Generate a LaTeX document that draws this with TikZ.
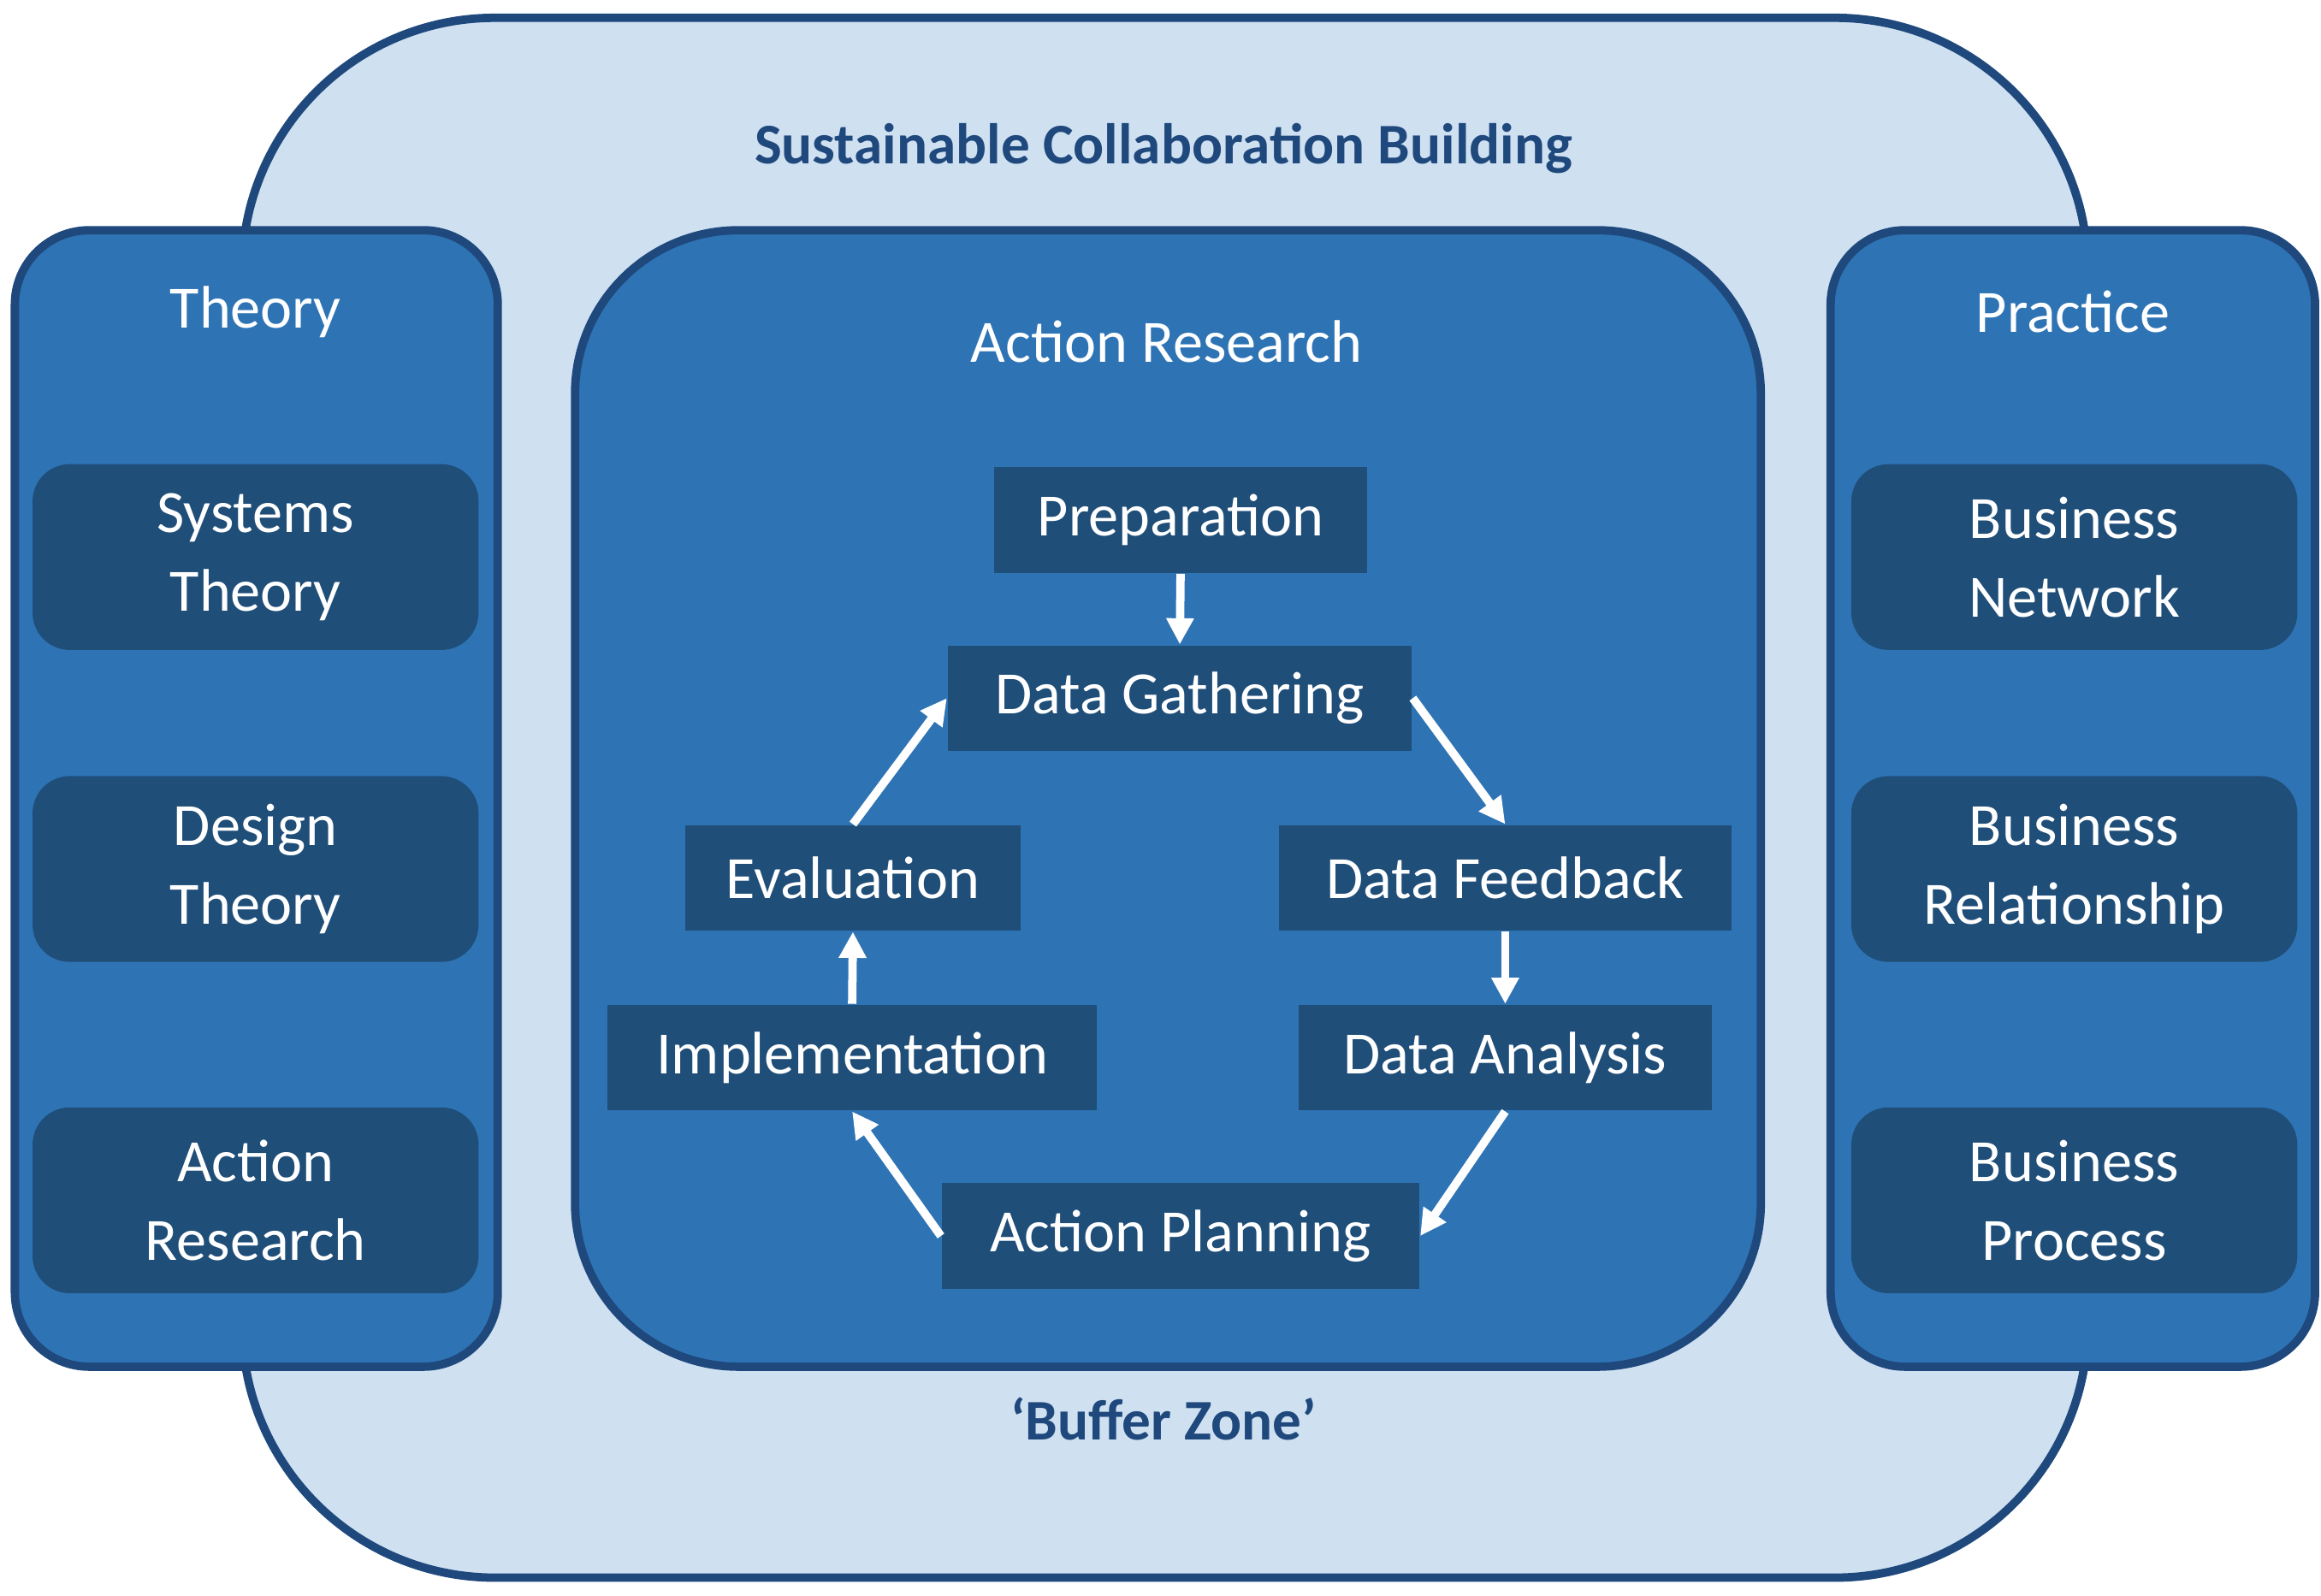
\documentclass[tikz,border=0pt]{standalone}
\usepackage{fontspec}
\setmainfont{Carlito}
\usetikzlibrary{arrows.meta}
\definecolor{light}{RGB}{207,224,241}
\definecolor{mid}{RGB}{46,116,181}
\definecolor{dark}{RGB}{31,78,121}
\definecolor{edge}{RGB}{31,73,125}
\begin{document}
\begin{tikzpicture}[x=0.01cm,y=-0.01cm,
  panel/.style={draw=edge,line width=1.6pt,fill=mid},
  side/.style={fill=dark,rounded corners=0.25cm,text=white,align=center,inner sep=0pt,
     minimum width=3cm,minimum height=1.25cm,font=\fontsize{11.5}{15}\selectfont},
  stepbox/.style={fill=dark,text=white,inner sep=0pt,minimum height=0.71cm,font=\fontsize{11.5}{14}\selectfont},
  lbl/.style={text=white,font=\fontsize{11.5}{14}\selectfont},
  arr/.style={draw=white,line width=1.6pt,-{Triangle[width=5pt,length=5pt]}}]
\useasboundingbox (0,0) rectangle (1562,1074);
\draw[draw=edge,line width=1.6pt,fill=light,rounded corners=1.7cm] (163,12) rectangle (1405,1062);
\draw[panel,rounded corners=0.5cm] (10,155) rectangle (335,920);
\draw[panel,rounded corners=0.5cm] (1232,155) rectangle (1558,920);
\draw[panel,rounded corners=1.1cm] (387,155) rectangle (1185,920);
\node[text=edge,font=\fontsize{11}{13}\selectfont\bfseries] (title) at (783,100) {Sustainable Collaboration Building};
\node[text=edge,font=\fontsize{11}{13}\selectfont\bfseries] (buffer) at (783,955) {‘Buffer Zone’};
\node[lbl] (theory) at (172,210) {Theory};
\node[lbl] (practice) at (1395,210) {Practice};
\node[lbl] (ar) at (785,230) {Action Research};
\node[side] (s1) at (172,375) {Systems\\Theory};
\node[side] (s2) at (172,585) {Design\\Theory};
\node[side] (s3) at (172,808) {Action\\Research};
\node[side] (b1) at (1396,375) {Business\\Network};
\node[side] (b2) at (1396,585) {Business\\Relationship};
\node[side] (b3) at (1396,808) {Business\\Process};
\node[stepbox,minimum width=2.51cm] (prep) at (794.5,350) {Preparation};
\node[stepbox,minimum width=3.12cm] (dg) at (794,470) {Data Gathering};
\node[stepbox,minimum width=2.26cm] (ev) at (574,591) {Evaluation};
\node[stepbox,minimum width=3.04cm] (df) at (1013,591) {Data Feedback};
\node[stepbox,minimum width=3.29cm] (im) at (573.5,712) {Implementation};
\node[stepbox,minimum width=2.78cm] (da) at (1013,712) {Data Analysis};
\node[stepbox,minimum width=3.21cm] (ap) at (794.5,832) {Action Planning};
\draw[arr] (prep.south) -- (dg.north);
\draw[arr] (dg.east) -- (df.north);
\draw[arr] (df.south) -- (da.north);
\draw[arr] (da.south) -- (ap.east);
\draw[arr] (ap.west) -- (im.south);
\draw[arr] (im.north) -- (ev.south);
\draw[arr] (ev.north) -- (dg.west);
\end{tikzpicture}
\end{document}
